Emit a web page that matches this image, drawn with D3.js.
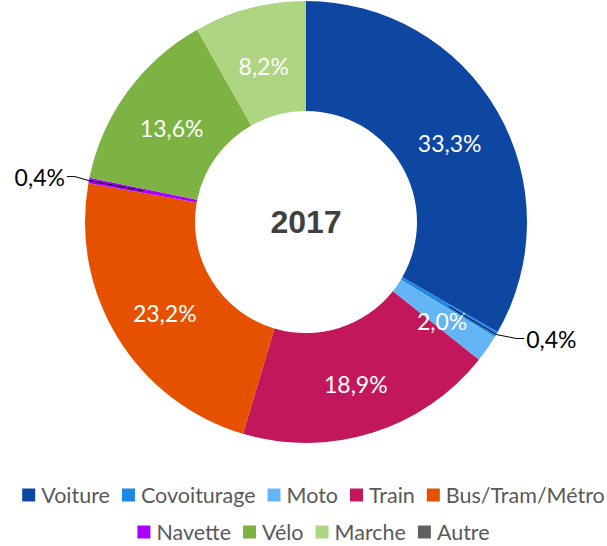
<!DOCTYPE html>
<html>
<head>
<meta charset="utf-8">
<script src="https://cdn.jsdelivr.net/npm/d3@7"></script>
<style>
  body { margin: 0; background: #fff; }
  svg { display: block; }
</style>
</head>
<body>
<div id="chart"></div>
<script>
const categories = ["Voiture", "Covoiturage", "Moto", "Train", "Bus/Tram/Métro", "Navette", "Vélo", "Marche", "Autre"];
const values = [33.3, 0.4, 2.0, 18.9, 23.2, 0.4, 13.6, 8.2, 0.0];
const colors = ["#0D47A1", "#1E88E5", "#64B5F6", "#C2185B", "#E65100", "#AA00FF", "#7CB342", "#AED581", "#616161"];
const title = "2017";
// small slices get an outside label with a leader line
const outsideLabels = ["Covoiturage", "Navette"];
const legendRows = [[0, 1, 2, 3, 4], [5, 6, 7, 8]];

const width = 607, height = 546;
const cx = 306, cy = 222;
const outerR = 221, innerR = 111;

const fmt = v => d3.format(".1f")(v).replace(".", ",") + "%";

const svg = d3.select("#chart").append("svg")
  .attr("width", width)
  .attr("height", height);

const g = svg.append("g")
  .attr("transform", `translate(${cx},${cy})`);

const data = categories.map((c, i) => ({ name: c, value: values[i], color: colors[i] }));

const pie = d3.pie()
  .value(d => d.value)
  .sort(null);

const arcs = pie(data);

const arc = d3.arc()
  .innerRadius(innerR)
  .outerRadius(outerR);

const labelArc = d3.arc()
  .innerRadius(innerR + 55)
  .outerRadius(outerR - 55);

g.selectAll("path.slice")
  .data(arcs.filter(d => d.value > 0))
  .join("path")
  .attr("class", "slice")
  .attr("fill", d => d.data.color)
  .attr("d", arc);

// inside labels
g.selectAll("text.val")
  .data(arcs.filter(d => d.value > 0 && !outsideLabels.includes(d.data.name)))
  .join("text")
  .attr("class", "val")
  .attr("transform", d => {
    const [x, y] = labelArc.centroid(d);
    return `translate(${x},${y + 5})`;
  })
  .attr("text-anchor", "middle")
  .attr("dy", "0.35em")
  .attr("fill", "#fff")
  .style("font", "23px Lato, 'Open Sans', sans-serif")
  .text(d => fmt(d.value));

// outside labels with leader lines
const outs = arcs.filter(d => outsideLabels.includes(d.data.name));
outs.forEach(d => {
  const a = (d.startAngle + d.endAngle) / 2;
  const inner = labelArc.centroid(d);
  const edge = [Math.sin(a) * outerR, -Math.cos(a) * outerR];
  const right = Math.sin(a) > 0;
  const lx = edge[0] + (right ? 28 : -22);
  const ly = edge[1] + (right ? 4 : -4);
  const bend = [lx + (right ? -8 : 8), ly];
  g.append("polyline")
    .attr("points", [inner, edge, bend, [lx, ly]].map(p => p.join(",")).join(" "))
    .attr("fill", "none")
    .attr("stroke", "#000")
    .attr("stroke-width", 1);
  g.append("text")
    .attr("x", lx + (right ? 2 : -2))
    .attr("y", ly + 1)
    .attr("dy", "0.35em")
    .attr("text-anchor", right ? "start" : "end")
    .attr("fill", "#000")
    .style("font", "23px Lato, 'Open Sans', sans-serif")
    .text(fmt(d.value));
});

g.append("text")
  .attr("text-anchor", "middle")
  .attr("dy", "0.35em")
  .attr("fill", "#404040")
  .style("font", "bold 32px 'Liberation Sans', Arial, sans-serif")
  .text(title);

// legend, rows centred
const legend = svg.append("g");
const rowY = [495, 532];
const sq = 13, gapTxt = 6, gapItem = 12;
legendRows.forEach((row, r) => {
  const rg = legend.append("g");
  let x = 0;
  row.forEach(i => {
    const it = rg.append("g").attr("transform", `translate(${x},0)`);
    it.append("rect")
      .attr("x", 0).attr("y", -sq / 2)
      .attr("width", sq).attr("height", sq)
      .attr("fill", colors[i]);
    const t = it.append("text")
      .attr("x", sq + gapTxt)
      .attr("dy", "0.35em")
      .attr("fill", "#595959")
      .style("font", "21.5px Lato, 'Open Sans', sans-serif")
      .text(categories[i]);
    x += sq + gapTxt + t.node().getComputedTextLength() + gapItem;
  });
  const w = x - gapItem;
  rg.attr("transform", `translate(${(width - w) / 2 + 10},${rowY[r]})`);
});
</script>
</body>
</html>
